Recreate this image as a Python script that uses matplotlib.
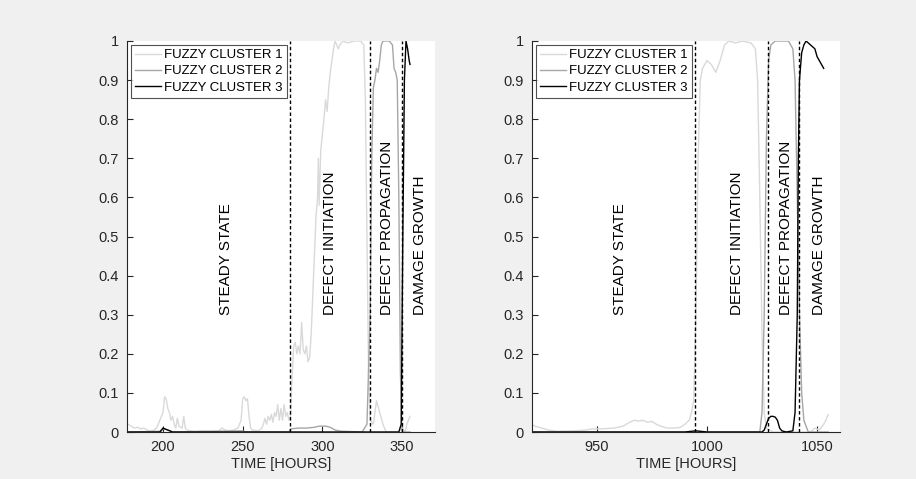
import numpy as np
import matplotlib
matplotlib.use("Agg")
import matplotlib.pyplot as plt

plt.rcParams['font.family'] = ['Liberation Sans', 'DejaVu Sans']

# ---- left panel data (hours 178 - 355) ----
left_t1 = [178, 180, 182, 184, 186, 188, 190, 192, 194, 196, 198, 200, 201, 202, 203, 204, 205, 206, 207,
           208, 209, 210, 212, 213, 214, 215, 216, 218, 220, 225, 230, 235, 237, 239, 241, 244, 247, 249,
           250, 251, 252, 253, 254, 255, 256, 258, 260, 262, 263, 264, 265, 266, 267, 268, 269, 270, 271,
           272, 273, 274, 275, 276, 277, 278, 279, 280, 281, 282, 283, 284, 285, 286, 287, 288, 289, 290,
           291, 292, 293, 294, 295, 296, 297, 297.5, 298, 299, 300, 301, 302, 303, 304, 305, 306, 307, 308,
           309, 310, 311, 313, 316, 320, 324, 326, 327, 328, 329, 330, 332, 334, 336, 338, 340, 348, 350,
           352, 353, 355]
left_c1 = [0.02, 0.015, 0.01, 0.012, 0.008, 0.01, 0.005, 0.003, 0.004, 0.01, 0.03, 0.05, 0.09, 0.085, 0.06,
           0.05, 0.03, 0.04, 0.02, 0.01, 0.035, 0.015, 0.01, 0.04, 0.01, 0.005, 0.004, 0.003, 0.002, 0.003,
           0.002, 0.003, 0.01, 0.005, 0.003, 0.005, 0.01, 0.03, 0.085, 0.09, 0.08, 0.085, 0.04, 0.01, 0.005,
           0.004, 0.003, 0.01, 0.02, 0.035, 0.02, 0.04, 0.03, 0.045, 0.025, 0.05, 0.04, 0.07, 0.03, 0.06,
           0.03, 0.07, 0.04, 0.05, 0.03, 0.04, 0.14, 0.22, 0.23, 0.2, 0.22, 0.2, 0.28, 0.21, 0.2, 0.22,
           0.18, 0.19, 0.25, 0.35, 0.45, 0.55, 0.6, 0.7, 0.58, 0.72, 0.76, 0.8, 0.85, 0.82, 0.88, 0.92,
           0.95, 0.98, 1.0, 0.99, 0.98, 0.99, 1.0, 0.995, 1.0, 1.0, 0.99, 0.85, 0.5, 0.15, 0.03, 0.02,
           0.08, 0.05, 0.02, 0.0, 0.0, 0.01, 0.0, 0.02, 0.04]

left_t2 = [178, 199, 200, 203, 206, 250, 252, 279, 280, 285, 290, 295, 298, 302, 305, 308, 312, 325, 328,
           330, 331, 332, 333, 334, 335, 336, 337, 338, 342, 344, 345, 346, 347, 348, 349, 350, 355]
left_c2 = [0.0, 0.002, 0.008, 0.005, 0.0, 0.003, 0.0, 0.0, 0.008, 0.01, 0.01, 0.012, 0.015, 0.015, 0.012,
           0.005, 0.002, 0.0, 0.02, 0.3, 0.7, 0.88, 0.9, 0.93, 0.92, 0.95, 0.99, 1.0, 1.0, 0.99, 0.93,
           0.92, 0.9, 0.6, 0.15, 0.0, 0.0]

left_t3 = [178, 198, 200, 203, 206, 300, 348, 349.5, 350.5, 351.5, 352.5, 353.5, 354.5, 355]
left_c3 = [0.0, 0.0, 0.01, 0.005, 0.0, 0.0, 0.0, 0.02, 0.5, 0.9, 1.0, 0.98, 0.95, 0.94]

# ---- right panel data (hours 920 - 1055) ----
right_t1 = [920, 922, 925, 928, 932, 940, 945, 948, 952, 958, 962, 965, 967, 969, 971, 973, 975, 977, 979,
            982, 985, 988, 990, 992, 993, 994, 995, 996, 997, 998, 1000, 1002, 1004, 1006, 1008, 1010,
            1013, 1016, 1020, 1022, 1023, 1024, 1025, 1026, 1027, 1030, 1047, 1049, 1051, 1053, 1054, 1055]
right_c1 = [0.02, 0.015, 0.01, 0.005, 0.002, 0.003, 0.005, 0.008, 0.008, 0.01, 0.015, 0.025, 0.03, 0.028,
            0.03, 0.025, 0.027, 0.02, 0.015, 0.01, 0.01, 0.012, 0.02, 0.03, 0.05, 0.08, 0.3, 0.7, 0.9,
            0.93, 0.95, 0.94, 0.92, 0.95, 0.99, 1.0, 0.995, 1.0, 0.995, 0.98, 0.9, 0.6, 0.25, 0.05, 0.01,
            0.0, 0.0, 0.01, 0.005, 0.02, 0.03, 0.045]

right_t2 = [920, 1024, 1025, 1026, 1027, 1028, 1029, 1031, 1034, 1037, 1039, 1040, 1041, 1042, 1043, 1044,
            1046, 1055]
right_c2 = [0.0, 0.0, 0.05, 0.3, 0.75, 0.95, 0.99, 1.0, 1.0, 1.0, 0.98, 0.9, 0.6, 0.3, 0.1, 0.03, 0.0, 0.0]

right_t3 = [920, 990, 995, 1000, 1025, 1026, 1027, 1028, 1029, 1030, 1031, 1032, 1033, 1034, 1036, 1039,
            1040, 1041, 1041.5, 1042, 1043, 1044, 1045, 1046, 1047, 1048, 1049, 1050, 1051, 1052, 1053]
right_c3 = [0.0, 0.0, 0.003, 0.0, 0.0, 0.005, 0.02, 0.035, 0.04, 0.04, 0.038, 0.03, 0.01, 0.003, 0.0, 0.003,
            0.05, 0.3, 0.7, 0.9, 0.97, 0.99, 1.0, 0.995, 0.99, 0.985, 0.98, 0.96, 0.95, 0.94, 0.93]

left_bounds = [280, 330, 349.8]
right_bounds = [994.8, 1027.8, 1041.8]
phase_labels = ['STEADY STATE', 'DEFECT INITIATION', 'DEFECT PROPAGATION', 'DAMAGE GROWTH']
left_label_x = [239.5, 304.5, 340.5, 361.5]
right_label_x = [960.5, 1013.5, 1036, 1051]
series_labels = ['FUZZY CLUSTER 1', 'FUZZY CLUSTER 2', 'FUZZY CLUSTER 3']
colors = ['#d9d9d9', '#a6a6a6', '#000000']

bg = '#f0f0f0'
axcol = '#262626'

fig = plt.figure(figsize=(9.16, 4.79), dpi=100)
fig.patch.set_facecolor(bg)

ax_l = fig.add_axes([127 / 916, 47 / 479, 308 / 916, 391 / 479])
ax_r = fig.add_axes([532 / 916, 47 / 479, 308 / 916, 391 / 479])


def draw_panel(ax, series, bounds, label_x, xlim, xticks):
    for (t, c), col, lab in zip(series, colors, series_labels):
        ax.plot(t, c, color=col, lw=1.0, label=lab)
    for b in bounds:
        ax.axvline(b, color='black', ls=(0, (2.5, 1.8)), lw=1.0)
    for x, txt in zip(label_x, phase_labels):
        ax.text(x, 0.3, txt, rotation=90, ha='center', va='bottom', fontsize=11, color='black')
    ax.set_xlim(*xlim)
    ax.set_ylim(0, 1)
    ax.set_xticks(xticks)
    ax.set_yticks(np.arange(0, 1.01, 0.1))
    ax.set_yticklabels(['0', '0.1', '0.2', '0.3', '0.4', '0.5', '0.6', '0.7', '0.8', '0.9', '1'])
    ax.tick_params(direction='in', length=4, width=0.8, colors=axcol, labelsize=10.5, pad=6)
    ax.spines['top'].set_visible(False)
    ax.spines['right'].set_visible(False)
    for s in ['left', 'bottom']:
        ax.spines[s].set_color(axcol)
        ax.spines[s].set_linewidth(0.8)
    ax.set_xlabel('TIME [HOURS]', fontsize=10.5, color=axcol, labelpad=2)
    leg = ax.legend(loc='upper left', fontsize=9.5, frameon=True, fancybox=False,
                    handlelength=2.0, handletextpad=0.2, borderpad=0.3, labelspacing=0.3,
                    borderaxespad=0.3)
    leg.get_frame().set_edgecolor(axcol)
    leg.get_frame().set_linewidth(0.8)


draw_panel(ax_l, [(left_t1, left_c1), (left_t2, left_c2), (left_t3, left_c3)],
           left_bounds, left_label_x, (177.4, 370.7), [200, 250, 300, 350])
draw_panel(ax_r, [(right_t1, right_c1), (right_t2, right_c2), (right_t3, right_c3)],
           right_bounds, right_label_x, (920.6, 1060.4), [950, 1000, 1050])

fig.savefig('out.png', dpi=100, facecolor=bg)
